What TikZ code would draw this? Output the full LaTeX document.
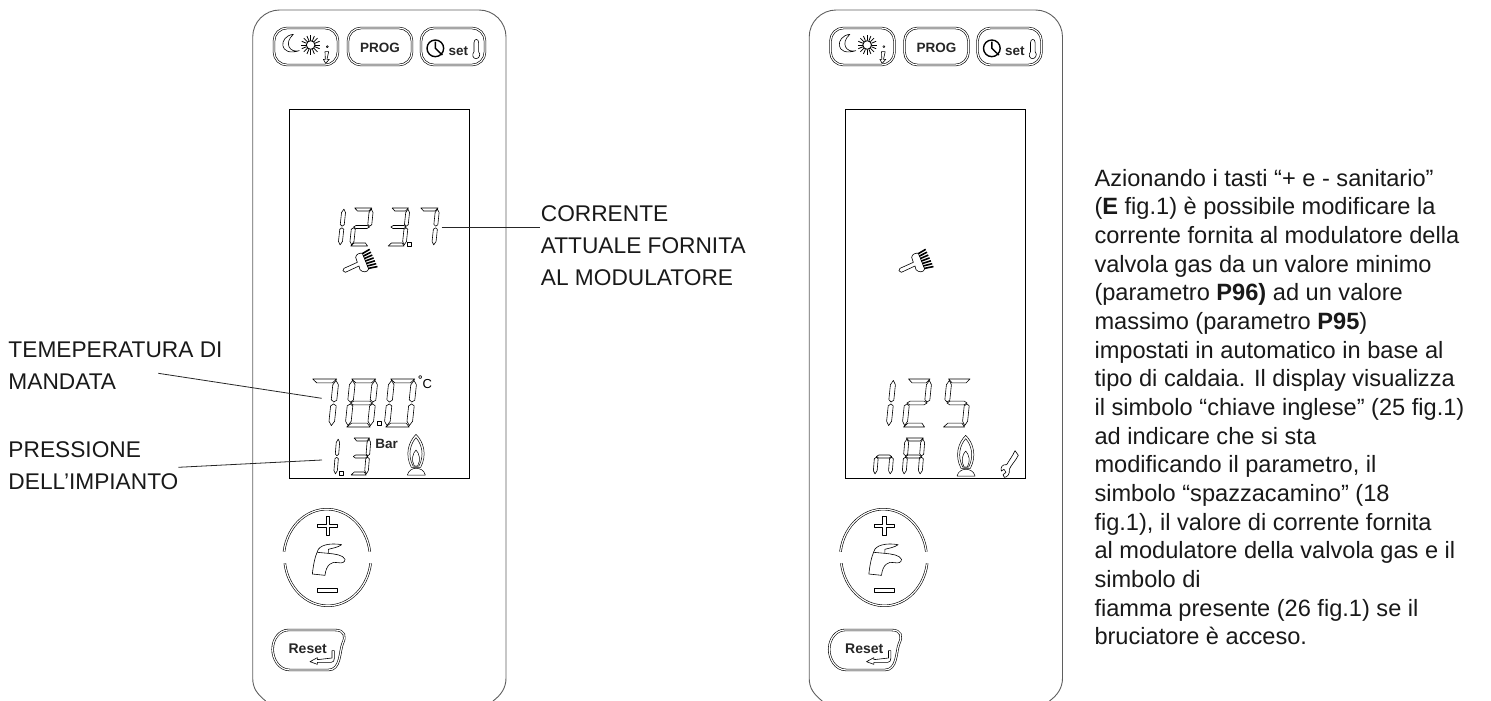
\documentclass[tikz,border=0pt]{standalone}
\usepackage{fontspec}
\setmainfont{Liberation Sans}
\definecolor{panelgray}{RGB}{95,95,95}
\definecolor{textblack}{RGB}{25,25,25}
% segments of one display digit, in a unit cell
\newcommand{\lcda}{\draw[lcdline] (.06,1)--(.92,1)--(.78,.92)--(.22,.92)--cycle;}
\newcommand{\lcdb}{\draw[lcdline] (.9,.97)--(1,.88)--(1,.56)--(.9,.52)--(.8,.57)--(.8,.88)--cycle;}
\newcommand{\lcdc}{\draw[lcdline] (.9,.48)--(1,.44)--(1,.12)--(.9,.03)--(.8,.12)--(.8,.44)--cycle;}
\newcommand{\lcdd}{\draw[lcdline] (.06,0)--(.9,0)--(.78,.08)--(.22,.08)--cycle;}
\newcommand{\lcde}{\draw[lcdline] (.1,.48)--(.2,.44)--(.2,.12)--(.1,.03)--(0,.12)--(0,.44)--cycle;}
\newcommand{\lcdf}{\draw[lcdline] (.1,.97)--(.2,.88)--(.2,.56)--(.1,.52)--(0,.57)--(0,.88)--cycle;}
\newcommand{\lcdg}{\draw[lcdline] (.1,.5)--(.22,.54)--(.78,.54)--(.9,.5)--(.78,.46)--(.22,.46)--cycle;}
% x, base y, width, height, slant, segments
\newcommand{\lcddigit}[6]{%
  \begin{scope}[shift={(#1,#2)},x={(#3pt,0pt)},y={(#5pt,#4pt)}]
    \foreach \sg in {#6} {\csname lcd\sg\endcsname}
  \end{scope}}
\newcommand{\lcddot}[2]{\draw[lcdline] (#1-2,#2-2) rectangle (#1+2,#2+2);}
\tikzset{
  panelline/.style={draw=panelgray,line width=.9pt},
  lcdline/.style={draw=black,line width=.6pt,line join=round},
  iconline/.style={draw=black,line width=.6pt,line join=round},
  btnline/.style={draw=black,line width=.6pt,double=white,double distance=1.2pt},
  btnbox/.style={btnline,rounded corners=13pt,inner sep=0pt,minimum width=64pt,minimum height=37pt},
  btntext/.style={font=\bfseries\fontsize{13.5}{15}\selectfont,text=black!85,inner sep=0pt},
  dispbox/.style={draw=black,line width=.7pt,inner sep=0pt,minimum width=180pt,minimum height=369pt},
  lbl/.style={font=\fontsize{22.7}{32}\selectfont,text=textblack,align=left,anchor=north west,inner sep=0pt},
  bodytext/.style={font=\fontsize{23.6}{28.65}\selectfont,text=textblack,align=left,anchor=north west,inner sep=0pt},
  leader/.style={draw=black!85,line width=.8pt},
  zoomed/.style={shift={(#1)},x=.33333pt,y=-.33333pt},
  pics/brushicon/.style={code={
    \begin{scope}[zoomed={270,170}]
      \draw[iconline] (222,295)--(262,277)--(257,262) .. controls (258,252) and (270,248) .. (277,250)
        --(296,297) .. controls (292,308) and (278,308) .. (270,299)--(267,288)--(226,307)
        .. controls (218,307) and (216,298) .. (222,295)--cycle;
      \foreach \i in {0,...,6}
        \draw[black,line width=1.6pt] (277+\i*2.9,251+\i*7.4)--(299+\i*3.9,238+\i*8.6);
    \end{scope}}},
  pics/flameicon/.style={code={
    \begin{scope}[zoomed={280,370}]
      \draw[iconline,line width=.5pt] (408,193) .. controls (385,215) and (374,255) .. (394,292)
        --(422,292) .. controls (442,255) and (431,215) .. (408,193)--cycle;
      \draw[iconline,line width=.5pt] (408,203) .. controls (391,222) and (382,255) .. (399,288)
        --(417,288) .. controls (434,255) and (425,222) .. (408,203)--cycle;
      \draw[iconline,line width=.5pt] (408,240) .. controls (398,250) and (393,270) .. (403,288)
        --(413,288) .. controls (423,270) and (418,250) .. (408,240)--cycle;
      \draw[iconline,line width=.5pt] (382,315) .. controls (386,300) and (398,295) .. (408,295)
        .. controls (420,295) and (432,300) .. (436,315)--cycle;
    \end{scope}}},
  pics/ctrlpanel/.style={code={
    \draw[panelline] (265.7,701) .. controls (257,694) and (252.7,688) .. (252.7,678)--(252.7,37)
      arc[start angle=180,end angle=270,radius=27]--(479,10)
      arc[start angle=270,end angle=360,radius=27]--(506,678)
      .. controls (506,688) and (501,695) .. (493,701);
    \node[btnbox] (mode) at (306,46.5) {};
    \node[btnbox] (prog) at (380,46.5) {};
    \node[btnbox] (set) at (453,46.5) {};
    \node[btntext] (progtext) at (380,48) {PROG};
    \node[btntext] (settext) at (458.3,51) {set};
    \node[dispbox] (disp) at (379.3,293.7) {};
    \begin{scope}[zoomed={240,0}]
      % moon and sun
      \draw[iconline] (160,103) .. controls (115,108) and (115,172) .. (178,152)
        .. controls (150,160) and (130,130) .. (160,103)--cycle;
      \draw[black,line width=.9pt] (212,135) circle (13);
      \foreach \a in {0,22.5,...,337.5}
        \draw[black,line width=.8pt] (212,135) ++(\a:14)--++(\a:15);
      \draw[iconline] (262,140) circle (3);
      \draw[iconline] (255,155)--(266,155)--(261,178)--(268,178)--(257,190)--(250,178)--(256,178)--cycle;
      % clock and thermometer
      \draw[black,line width=1.4pt] (586,145) circle (25);
      \draw[black,line width=1.4pt] (586,125)--(586,145)--(607,165);
      \draw[iconline] (702,128) .. controls (702,115) and (716,115) .. (716,128)--(716,155)
        .. controls (724,165) and (716,176) .. (708,176) .. controls (700,176) and (694,165) .. (702,155)--cycle;
    \end{scope}
    \begin{scope}[zoomed={260,510}]
      % tap key
      \draw[btnline] (72,125) arc[start angle=188,end angle=352,x radius=130,y radius=148];
      \draw[btnline] (332,160) arc[start angle=8,end angle=172,x radius=130,y radius=148];
      \draw[iconline] (198,20)--(208,20)--(208,42)--(233,42)--(233,52)--(208,52)--(208,75)--(198,75)--(198,52)
        --(173,52)--(173,42)--(198,42)--cycle;
      \draw[iconline] (173,234) rectangle (233,246);
      \draw[iconline] (157,192) .. controls (160,165) and (165,140) .. (172,125)
        .. controls (176,105) and (210,98) .. (245,104) .. controls (235,112) and (215,115) .. (205,118)
        --(205,130) .. controls (225,132) and (250,135) .. (255,148) .. controls (255,158) and (245,160) .. (235,158)
        .. controls (215,152) and (198,165) .. (195,196)--cycle;
      \draw[iconline] (172,127)--(205,130);
      % reset key
      \draw[btnline] (85,360)--(225,360) .. controls (255,360) and (258,380) .. (248,400)
        .. controls (238,425) and (243,480) .. (205,480)--(90,480)
        .. controls (55,480) and (38,445) .. (38,418) .. controls (38,385) and (60,360) .. (85,360)--cycle;
      \draw[iconline] (216,422)--(216,444)--(172,449)--(172,443)--(150,455)--(172,463)--(172,457)--(214,457)
        .. controls (220,457) and (223,452) .. (223,445)--(223,422)--cycle;
    \end{scope}
    \node[font=\bfseries\fontsize{14}{16}\selectfont,text=black!85,inner sep=0pt] (reset) at (307.7,649) {Reset};
  }}
}
\begin{document}
\begin{tikzpicture}[x=1pt,y=-1pt]
  \useasboundingbox (0,0) rectangle (1491,701);
  \pic (lp) at (0,0) {ctrlpanel};
  \pic (rp) at (556.5,0) {ctrlpanel};

  % left display
  \lcddigit{322}{246}{20}{38}{4}{b,c}
  \lcddigit{349.5}{246}{20}{38}{4}{a,b,g,e,d}
  \lcddigit{387}{246}{19}{38}{4}{a,b,g,c,d}
  \lcddot{409.5}{244}
  \lcddigit{415.6}{246}{20}{38}{4}{a,b,c}
  \pic (lbrush) at (0,0) {brushicon};
  \lcddigit{306}{427}{28}{48}{5}{a,b,c}
  \lcddigit{345}{427}{28}{48}{5}{a,b,c,d,e,f,g}
  \lcddot{379}{423}
  \lcddigit{384}{427}{28}{48}{5}{a,b,c,d,e,f}
  \node[font=\fontsize{13}{14}\selectfont,inner sep=0pt] (lunit) at (425,382) {\raisebox{5pt}{\bfseries\fontsize{11}{12}\selectfont °}C};
  \lcddigit{320}{475}{17}{37}{3}{b,c}
  \lcddot{341}{473}
  \lcddigit{350}{475}{18}{37}{3}{a,b,g,c,d}
  \node[btntext] (lbar) at (386.7,444) {Bar};
  \pic (lflame) at (0,0) {flameicon};

  % right display
  \pic (rbrush) at (556,0) {brushicon};
  \lcddigit{866}{427}{25}{48}{5}{b,c}
  \lcddigit{902}{427}{25}{48}{5}{a,b,g,e,d}
  \lcddigit{942}{427}{25}{48}{5}{a,f,g,c,d}
  \lcddigit{873}{475}{19}{37}{3}{e,c,g}
  \lcddigit{902}{475}{20}{37}{3}{a,b,c,e,f,g}
  \pic (rflame) at (549.7,1) {flameicon};
  \begin{scope}[zoomed={850,380}]
    \draw[iconline] (495,212)--(505,226) .. controls (495,245) and (483,255) .. (478,268)
      .. controls (480,282) and (472,292) .. (463,292)--(459,284)--(468,277)--(462,268)--(454,273)
      .. controls (450,262) and (458,252) .. (470,254) .. controls (478,240) and (488,228) .. (495,212)--cycle;
  \end{scope}

  % labels
  \node[lbl] (curlabel) at (540.7,205.3) {CORRENTE\\ATTUALE FORNITA\\AL MODULATORE};
  \node[lbl] (templabel) at (8.3,342) {TEMEPERATURA DI\\MANDATA};
  \node[lbl] (preslabel) at (8.3,441.7) {PRESSIONE\\DELL’IMPIANTO};
  \coordinate (curdigit) at (441.7,227.7);
  \coordinate (curtext) at (540,227.7);
  \coordinate (tempdigit) at (321.7,398.3);
  \coordinate (temptext) at (158.3,373.3);
  \coordinate (presdigit) at (322,460);
  \coordinate (prestext) at (178.3,467.3);
  \draw[leader] (curdigit)--(curtext);
  \draw[leader] (temptext)--(tempdigit);
  \draw[leader] (prestext)--(presdigit);

  \node[bodytext] (note) at (1094.3,169) {Azionando i tasti “+ e - sanitario”\\
    ({\bfseries E} fig.1) è possibile modificare la\\
    corrente fornita al modulatore della\\
    valvola gas da un valore minimo\\
    (parametro {\bfseries P96)} ad un valore\\
    massimo (parametro {\bfseries P95})\\
    impostati in automatico in base al\\
    tipo di caldaia. Il display visualizza\\
    il simbolo “chiave inglese” (25 fig.1)\\
    ad indicare che si sta\\
    modificando il parametro, il\\
    simbolo “spazzacamino” (18\\
    fig.1), il valore di corrente fornita\\
    al modulatore della valvola gas e il\\
    simbolo di\\
    fiamma presente (26 fig.1) se il\\
    bruciatore è acceso.};
\end{tikzpicture}
\end{document}
